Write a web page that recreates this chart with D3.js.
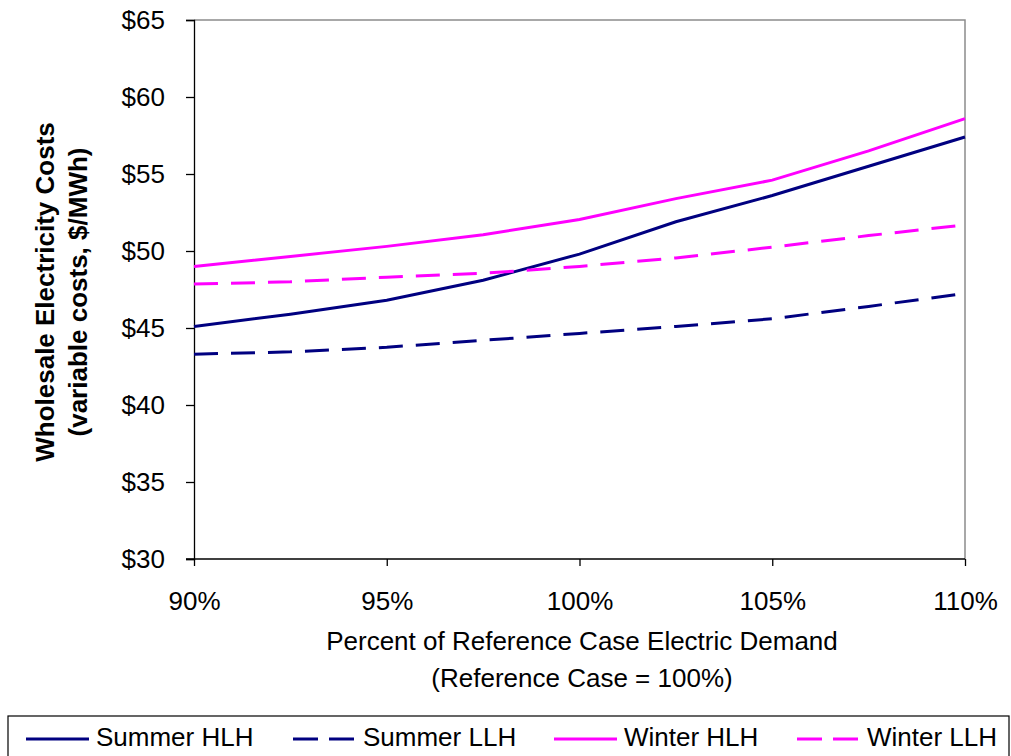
<!DOCTYPE html>
<html><head><meta charset="utf-8">
<script src="https://cdn.jsdelivr.net/npm/d3@7"></script>
<style>
body{margin:0;background:#fff;}
svg{display:block;font-family:"Liberation Sans",Arial,sans-serif;}
</style></head>
<body><svg id="c" width="1011" height="756"></svg>
<script>
const demand = [90, 92.5, 95, 97.5, 100, 102.5, 105, 107.5, 110];
const summerHLH = [45.1, 45.9, 46.8, 48.1, 49.8, 51.9, 53.6, 55.5, 57.4];
const summerLLH = [43.3, 43.45, 43.75, 44.2, 44.65, 45.1, 45.6, 46.4, 47.25];
const winterHLH = [49.0, 49.65, 50.3, 51.05, 52.05, 53.4, 54.6, 56.5, 58.6];
const winterLLH = [47.85, 48.0, 48.3, 48.55, 49.0, 49.55, 50.25, 51.0, 51.7];
const xTicks = [90, 95, 100, 105, 110];
const yTicks = [30, 35, 40, 45, 50, 55, 60, 65];
const seriesNames = ["Summer HLH", "Summer LLH", "Winter HLH", "Winter LLH"];
const seriesColors = ["#000080", "#000080", "#FF00FF", "#FF00FF"];
const seriesDashed = [false, true, false, true];
const seriesValues = [summerHLH, summerLLH, winterHLH, winterLLH];

const svg = d3.select("#c");
const FS = 26;
const L = 194, R = 965, T = 20, B = 559;
const x = d3.scaleLinear().domain([90, 110]).range([L, R]);
const y = d3.scaleLinear().domain([30, 65]).range([B, T]);

// plot border (gray top/right)
svg.append("path").attr("d", `M${L},${T}H${R}V${B}`).attr("fill","none").attr("stroke","#8c8c8c").attr("stroke-width",1.5);

// axes
const yAxis = d3.axisLeft(y).tickValues(yTicks).tickSize(8).tickPadding(21).tickFormat(d => "$" + d);
const gy = svg.append("g").attr("transform", `translate(${L},0)`).call(yAxis);
const xAxis = d3.axisBottom(x).tickValues(xTicks).tickSize(7).tickPadding(26).tickFormat(d => d + "%");
const gx = svg.append("g").attr("transform", `translate(0,${B})`).call(xAxis);
[gx, gy].forEach(g => {
  g.attr("font-size", FS).attr("font-family", "Liberation Sans, Arial, sans-serif");
  g.select(".domain").attr("stroke","#000").attr("stroke-width",1.3);
  g.selectAll(".tick line").attr("stroke","#000").attr("stroke-width",1.3);
  g.selectAll("text").attr("fill","#000");
});
gx.select(".domain").attr("d", `M${L-8},0H${R}`);

// lines
const line = d3.line().x((d,i) => x(demand[i])).y(d => y(d));
seriesValues.forEach((vals, k) => {
  svg.append("path").datum(vals).attr("d", line).attr("fill","none")
    .attr("stroke", seriesColors[k]).attr("stroke-width", 3)
    .attr("stroke-dasharray", seriesDashed[k] ? "24,13" : null);
});

// axis titles
svg.append("text").attr("x", 582).attr("y", 650).attr("text-anchor","middle")
  .attr("font-size", FS).text("Percent of Reference Case Electric Demand");
svg.append("text").attr("x", 582).attr("y", 687).attr("text-anchor","middle")
  .attr("font-size", FS).text("(Reference Case = 100%)");
const yt = svg.append("g").attr("transform", `translate(54,292) rotate(-90)`);
yt.append("text").attr("text-anchor","middle").attr("font-size",FS).attr("font-weight","bold").text("Wholesale Electricity Costs");
yt.append("text").attr("y", 33).attr("text-anchor","middle").attr("font-size",FS).attr("font-weight","bold").text("(variable costs, $/MWh)");

// legend
svg.append("rect").attr("x", 8).attr("y", 716).attr("width", 1001).attr("height", 60)
  .attr("fill","none").attr("stroke","#000").attr("stroke-width",1.2);
const legX = [26, 293, 554, 797];
seriesNames.forEach((n, k) => {
  svg.append("line").attr("x1", legX[k]).attr("x2", legX[k] + 63).attr("y1", 739).attr("y2", 739)
    .attr("stroke", seriesColors[k]).attr("stroke-width", 3)
    .attr("stroke-dasharray", seriesDashed[k] ? "25,11" : null);
  svg.append("text").attr("x", legX[k] + 70).attr("y", 746).attr("font-size", FS).text(n);
});
</script></body></html>
